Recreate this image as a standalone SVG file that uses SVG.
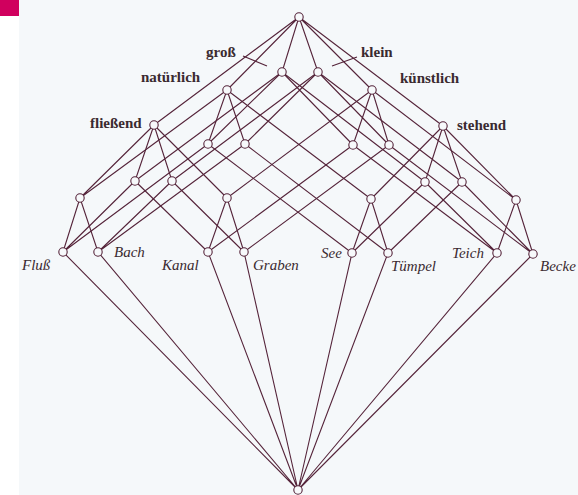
<svg xmlns="http://www.w3.org/2000/svg" width="578" height="495" viewBox="0 0 578 495">
<style>
.e{stroke:#55243a;stroke-width:1.1;fill:none}
.n{fill:#f7f9fb;stroke:#55243a;stroke-width:1.1}
.a{font-family:'Liberation Serif','DejaVu Serif',serif;font-weight:bold;font-size:15px;fill:#3a2a30}
.o{font-family:'Liberation Serif','DejaVu Serif',serif;font-style:italic;font-size:15px;fill:#3a2a30}
</style>
<rect x="0" y="0" width="578" height="495" fill="#ffffff"/>
<rect x="19" y="0" width="559" height="495" fill="#f5f8fa"/>
<rect x="0" y="0" width="19" height="16" fill="#d0005e"/>
<g id="connectors" class="e">
<path d="M299,17L282,72M299,17L318,72M299,17L227,90M299,17L372,90M299,17L154,125M299,17L443,126"/>
<path d="M208,144L282,72M208,144L227,90M245,144L318,72M245,144L227,90M353,145L282,72M353,145L372,90M389,145L318,72M389,145L372,90"/>
<path d="M135,181L282,72M135,181L154,125M172,181L318,72M172,181L154,125M425,182L282,72M425,182L443,126M462,182L318,72M462,182L443,126"/>
<path d="M80,198L227,90M80,198L154,125M227,198L372,90M227,198L154,125M371,199L227,90M371,199L443,126M516,200L372,90M516,200L443,126"/>
<path d="M63,252L208,144M63,252L135,181M63,252L80,198"/>
<path d="M98,252L245,144M98,252L172,181M98,252L80,198"/>
<path d="M208,252L353,145M208,252L135,181M208,252L227,198"/>
<path d="M244,252L389,145M244,252L172,181M244,252L227,198"/>
<path d="M352,253L208,144M352,253L425,182M352,253L371,199"/>
<path d="M388,253L245,144M388,253L462,182M388,253L371,199"/>
<path d="M497,253L353,145M497,253L425,182M497,253L516,200"/>
<path d="M533,254L389,145M533,254L462,182M533,254L516,200"/>
<path d="M63,252L298,490M98,252L298,490M208,252L298,490M244,252L298,490M352,253L298,490M388,253L298,490M497,253L298,490M533,254L298,490"/>
<path d="M243,56L267,66M332,66L357,57"/>
</g>
<g id="top"><circle class="n" cx="299" cy="17" r="4.2"/></g>
<g id="gross"><circle class="n" cx="282" cy="72" r="4.2"/><text class="a" x="206" y="57">groß</text></g>
<g id="klein"><circle class="n" cx="318" cy="72" r="4.2"/><text class="a" x="361" y="57">klein</text></g>
<g id="natuerlich"><circle class="n" cx="227" cy="90" r="4.2"/><text class="a" x="141" y="82">natürlich</text></g>
<g id="kuenstlich"><circle class="n" cx="372" cy="90" r="4.2"/><text class="a" x="400" y="83">künstlich</text></g>
<g id="fliessend"><circle class="n" cx="154" cy="125" r="4.2"/><text class="a" x="90" y="128">fließend</text></g>
<g id="stehend"><circle class="n" cx="443" cy="126" r="4.2"/><text class="a" x="457" y="130">stehend</text></g>
<g id="gross-natuerlich"><circle class="n" cx="208" cy="144" r="4.2"/></g>
<g id="klein-natuerlich"><circle class="n" cx="245" cy="144" r="4.2"/></g>
<g id="gross-kuenstlich"><circle class="n" cx="353" cy="145" r="4.2"/></g>
<g id="klein-kuenstlich"><circle class="n" cx="389" cy="145" r="4.2"/></g>
<g id="gross-fliessend"><circle class="n" cx="135" cy="181" r="4.2"/></g>
<g id="klein-fliessend"><circle class="n" cx="172" cy="181" r="4.2"/></g>
<g id="gross-stehend"><circle class="n" cx="425" cy="182" r="4.2"/></g>
<g id="klein-stehend"><circle class="n" cx="462" cy="182" r="4.2"/></g>
<g id="natuerlich-fliessend"><circle class="n" cx="80" cy="198" r="4.2"/></g>
<g id="kuenstlich-fliessend"><circle class="n" cx="227" cy="198" r="4.2"/></g>
<g id="natuerlich-stehend"><circle class="n" cx="371" cy="199" r="4.2"/></g>
<g id="kuenstlich-stehend"><circle class="n" cx="516" cy="200" r="4.2"/></g>
<g id="Fluss"><circle class="n" cx="63" cy="252" r="4.2"/><text class="o" x="22" y="270">Fluß</text></g>
<g id="Bach"><circle class="n" cx="98" cy="252" r="4.2"/><text class="o" x="114" y="257">Bach</text></g>
<g id="Kanal"><circle class="n" cx="208" cy="252" r="4.2"/><text class="o" x="162" y="270">Kanal</text></g>
<g id="Graben"><circle class="n" cx="244" cy="252" r="4.2"/><text class="o" x="253" y="270">Graben</text></g>
<g id="See"><circle class="n" cx="352" cy="253" r="4.2"/><text class="o" x="321" y="258">See</text></g>
<g id="Tuempel"><circle class="n" cx="388" cy="253" r="4.2"/><text class="o" x="391" y="271">Tümpel</text></g>
<g id="Teich"><circle class="n" cx="497" cy="253" r="4.2"/><text class="o" x="452" y="258">Teich</text></g>
<g id="Becken"><circle class="n" cx="533" cy="254" r="4.2"/><text class="o" x="540" y="271">Becke</text></g>
<g id="bottom"><circle class="n" cx="298" cy="490" r="4.2"/></g>
</svg>
